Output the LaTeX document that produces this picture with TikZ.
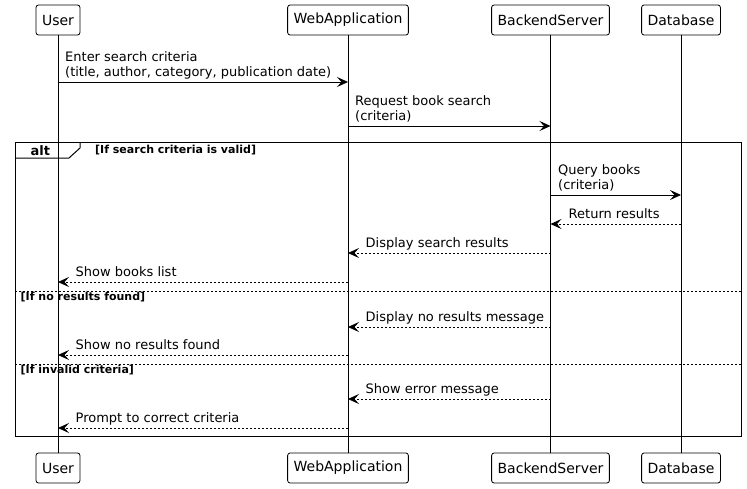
\documentclass[tikz,border=0pt]{standalone}
\usepackage{fontspec}
\setmainfont{DejaVu Sans}
\usetikzlibrary{arrows.meta}
\begin{document}
\begin{tikzpicture}[x=1pt,y=-1pt,
  actor/.style={draw, rounded corners=2.5pt, minimum height=30pt, inner xsep=6pt, inner ysep=0pt, font=\fontsize{14}{16}\selectfont, line width=0.8pt},
  lifeline/.style={line width=0.8pt},
  msg/.style={-{Stealth[length=11pt,width=10pt,inset=4.5pt]}, line width=0.8pt},
  reply/.style={msg, dash pattern=on 2pt off 2pt},
  lbl/.style={anchor=south west, inner sep=0pt, align=left, text depth=3pt, font=\fontsize{13}{15}\selectfont},
  guard/.style={anchor=base west, inner sep=0pt, font=\bfseries\fontsize{11}{13}\selectfont},
  framebox/.style={line width=1pt},
  sep/.style={line width=0.8pt, dash pattern=on 2pt off 2pt}
]
\useasboundingbox[fill=white] (0,0) rectangle (747,488);

% participants
\node[actor] (uT) at (58,20) {User};
\node[actor] (wT) at (348,20) {WebApplication};
\node[actor] (bT) at (550.5,20) {BackendServer};
\node[actor] (dT) at (681,20) {Database};
\node[actor] (uB) at (58,468) {User};
\node[actor] (wB) at (348,468) {WebApplication};
\node[actor] (bB) at (550.5,468) {BackendServer};
\node[actor] (dB) at (681,468) {Database};

% lifelines
\draw[lifeline] (uT) -- (uB);
\draw[lifeline] (wT) -- (wB);
\draw[lifeline] (bT) -- (bB);
\draw[lifeline] (dT) -- (dB);

% alt frame
\draw[framebox] (15,142) rectangle (741.5,436);
\draw[framebox] (15,158) -- (69,158) -- (80,148) -- (80,142);
\node[anchor=base west, inner sep=0pt, font=\bfseries\fontsize{13}{15}\selectfont] (altlbl) at (30.5,155) {alt};
\node[guard] (g1) at (95,153) {[If search criteria is valid]};
\coordinate (s1l) at (15,291);
\coordinate (s1r) at (741.5,291);
\draw[sep] (s1l) -- (s1r);
\node[guard] (g2) at (20.5,300) {[If no results found]};
\coordinate (s2l) at (15,364);
\coordinate (s2r) at (741.5,364);
\draw[sep] (s2l) -- (s2r);
\node[guard] (g3) at (20.5,373) {[If invalid criteria]};

% message end points
\coordinate (u1) at (uT |- 0,82);   \coordinate (w1) at (wT |- 0,82);
\coordinate (w2) at (wT |- 0,126);  \coordinate (b2) at (bT |- 0,126);
\coordinate (b3) at (bT |- 0,195);  \coordinate (d3) at (dT |- 0,195);
\coordinate (d4) at (dT |- 0,224);  \coordinate (b4) at (bT |- 0,224);
\coordinate (b5) at (bT |- 0,253);  \coordinate (w5) at (wT |- 0,253);
\coordinate (w6) at (wT |- 0,282);  \coordinate (u6) at (uT |- 0,282);
\coordinate (b7) at (bT |- 0,327);  \coordinate (w7) at (wT |- 0,327);
\coordinate (w8) at (wT |- 0,355);  \coordinate (u8) at (uT |- 0,355);
\coordinate (b9) at (bT |- 0,399);  \coordinate (w9) at (wT |- 0,399);
\coordinate (w10) at (wT |- 0,428); \coordinate (u10) at (uT |- 0,428);

% messages
\draw[msg] (u1) -- (w1);
\node[lbl] (l1) at (65,80) {Enter search criteria\\(title, author, category, publication date)};
\draw[msg] (w2) -- (b2);
\node[lbl] (l2) at (355,124) {Request book search\\(criteria)};
\draw[msg] (b3) -- (d3);
\node[lbl] (l3) at (558,193) {Query books\\(criteria)};
\draw[reply] (d4) -- (b4);
\node[lbl] (l4) at (568.5,222) {Return results};
\draw[reply] (b5) -- (w5);
\node[lbl] (l5) at (365.5,251) {Display search results};
\draw[reply] (w6) -- (u6);
\node[lbl] (l6) at (75.5,280) {Show books list};
\draw[reply] (b7) -- (w7);
\node[lbl] (l7) at (365.5,325) {Display no results message};
\draw[reply] (w8) -- (u8);
\node[lbl] (l8) at (75.5,353) {Show no results found};
\draw[reply] (b9) -- (w9);
\node[lbl] (l9) at (365.5,397) {Show error message};
\draw[reply] (w10) -- (u10);
\node[lbl] (l10) at (75.5,426) {Prompt to correct criteria};
\end{tikzpicture}
\end{document}
